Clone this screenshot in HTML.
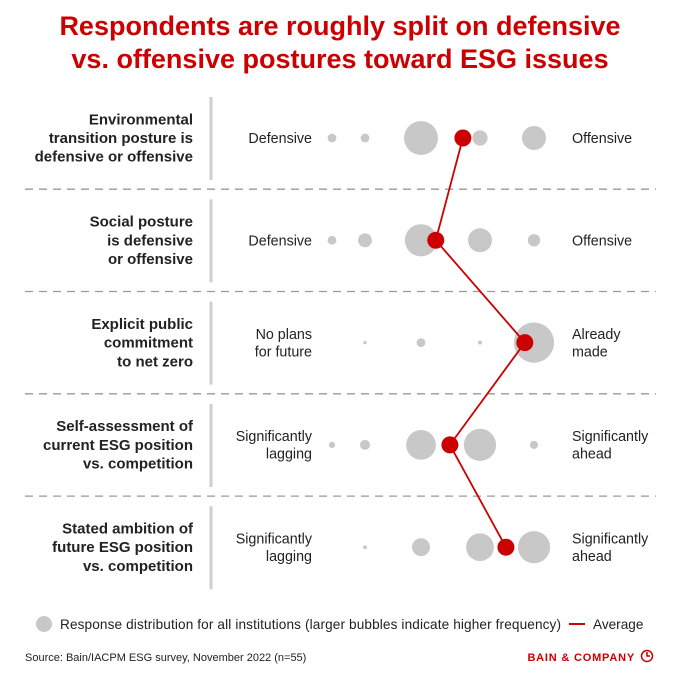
<!DOCTYPE html>
<html><head><meta charset="utf-8"><style>
body{margin:0;background:#fff;}
svg{display:block;font-family:"Liberation Sans",Arial,sans-serif;}
</style></head><body>
<svg id="chart" width="680" height="680" viewBox="0 0 680 680">
<text x="340" y="35" text-anchor="middle" font-size="27" font-weight="bold" fill="#cc0000">Respondents are roughly split on defensive</text>
<text x="340" y="68" text-anchor="middle" font-size="27" font-weight="bold" fill="#cc0000">vs. offensive postures toward ESG issues</text>
<g id="rows"></g>
<g id="marks"></g>
<g>
<circle cx="44" cy="624" r="8" fill="#c8c8c8"/>
<text x="60" y="629" font-size="13.6" fill="#222" textLength="501">Response distribution for all institutions (larger bubbles indicate higher frequency)</text>
<line x1="569" y1="624" x2="585" y2="624" stroke="#cc0000" stroke-width="2"/>
<text x="593" y="629" font-size="13.6" fill="#222">Average</text>
</g>
<text x="25" y="661" font-size="11" fill="#222">Source: Bain/IACPM ESG survey, November 2022 (n=55)</text>
<g>
<text x="635" y="661" text-anchor="end" font-size="11" font-weight="bold" fill="#cc0000" letter-spacing="0.8">BAIN &amp; COMPANY</text>
<circle cx="647" cy="656" r="5.5" fill="none" stroke="#cc0000" stroke-width="1.5"/>
<path d="M647 652 V656 H650" fill="none" stroke="#cc0000" stroke-width="1.5"/>
</g>
</svg>
<script>
const rowLabels=[["Environmental","transition posture is","defensive or offensive"],["Social posture","is defensive","or offensive"],["Explicit public","commitment","to net zero"],["Self-assessment of","current ESG position","vs. competition"],["Stated ambition of","future ESG position","vs. competition"]];
const leftLabels=[["Defensive"],["Defensive"],["No plans","for future"],["Significantly","lagging"],["Significantly","lagging"]];
const rightLabels=[["Offensive"],["Offensive"],["Already","made"],["Significantly","ahead"],["Significantly","ahead"]];
const scalePoints=[1,2,3,4,5];
const counts1=[2,2,30,6,15];
const counts2=[2,5,27,15,4];
const counts3=[0,0.3,2,0.4,42];
const counts4=[1,2.6,23,27,1.7];
const counts5=[0,0.4,8.4,20,27];
const averages=[3.71,3.25,4.83,3.49,4.48];
const counts=[counts1,counts2,counts3,counts4,counts5];
const NS="http://www.w3.org/2000/svg";
const tickPx=[332,365,421,480,534];
function xScale(v){const i=Math.max(0,Math.min(3,Math.floor(v-1)));return tickPx[i]+(v-1-i)*(tickPx[i+1]-tickPx[i]);}
function yScale(i){return 138+i*102.3;}
function rScale(n){return 3.1*Math.sqrt(n);}
function mk(tag,attrs,parent){const e=document.createElementNS(NS,tag);for(const k in attrs)e.setAttribute(k,attrs[k]);parent.appendChild(e);return e;}
function multi(lines,x,y,anchor,parent,weight,size,lh){const y0=y-(lines.length-1)*lh/2+5;const t=mk('text',{x:x,y:y0,'text-anchor':anchor,'font-size':size,'font-weight':weight,fill:'#222'},parent);lines.forEach((l,j)=>{const s=mk('tspan',{x:x,dy:j?lh:0},t);s.textContent=l;});return t;}
const rows=document.getElementById('rows'),marks=document.getElementById('marks');
for(let i=0;i<5;i++){
 const y=yScale(i);
 const g=mk('g',{},rows);
 
 
 const rl=multi(rowLabels[i],193,y,'end',g,'bold',15,18.7);
 
 
 const bar=mk('rect',{x:209.5,y:y-41,width:3,height:83,fill:'#cfcfcf'},g);
 
 
 const ll=multi(leftLabels[i],312,y,'end',g,'normal',14.3,17.5);
 
 
 const rr=multi(rightLabels[i],572,y,'start',g,'normal',14.3,17.5);
 
 
 if(i<4){const d=mk('line',{x1:25,x2:656,y1:y+51.2,y2:y+51.2,stroke:'#9a9a9a','stroke-width':1.3,'stroke-dasharray':'8 6'},g);
 
 }
 scalePoints.forEach((p,j)=>{const n=counts[i][j];if(n<=0)return;
  const c=mk('circle',{cx:xScale(p),cy:y,r:rScale(n),fill:'#c8c8c8'},g);
  
  });
}
const pts=averages.map((a,i)=>xScale(a)+','+yScale(i)).join(' ');
const pl=mk('polyline',{points:pts,fill:'none',stroke:'#cc0000','stroke-width':1.8},marks);


averages.forEach((a,i)=>{const c=mk('circle',{cx:xScale(a),cy:yScale(i),r:8.5,fill:'#cc0000'},marks);
 
 });
</script>
</body></html>
